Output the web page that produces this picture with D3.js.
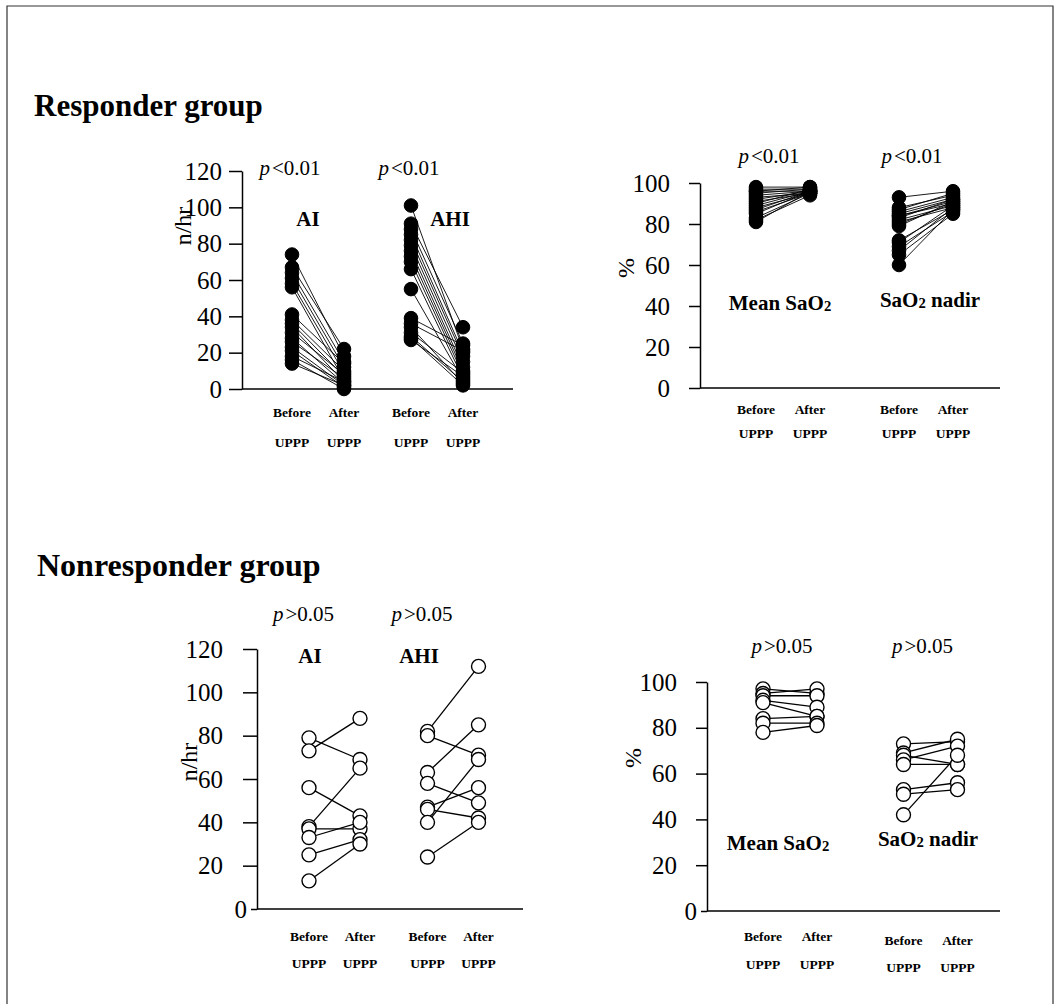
<!DOCTYPE html>
<html><head><meta charset="utf-8">
<script src="https://cdn.jsdelivr.net/npm/d3@7"></script>
<style>
body{margin:0;background:#fff;}
svg{display:block;}
text{font-family:"Liberation Serif","Times New Roman",serif;fill:#000;}
</style></head><body>
<svg id="c" width="1056" height="1004"></svg>
<script>
// ---------------- data ----------------
const groupTitles = ["Responder group", "Nonresponder group"];
const rateTicks = [0, 20, 40, 60, 80, 100, 120];
const pctTicks = [0, 20, 40, 60, 80, 100];
const phases = ["Before", "After"];
const phaseSub = "UPPP";
const rateMeasures = ["AI", "AHI"];
const pctMeasures = ["Mean SaO2", "SaO2 nadir"];
const rateTitle = "n/hr";
const pctTitle = "%";
const respP = ["<0.01", "<0.01", "<0.01", "<0.01"];
const nonP = [">0.05", ">0.05", ">0.05", ">0.05"];

// responder group (filled)
const respAIBefore  = [74, 67, 64, 61, 58, 56, 41, 38, 36, 34, 31, 28, 26, 23, 21, 18, 16, 14];
const respAIAfter   = [18, 22, 15, 12, 9, 5, 14, 10, 7, 4, 8, 3, 6, 2, 1, 4, 0, 2];
const respAHIBefore = [101, 91, 88, 85, 82, 79, 76, 73, 70, 66, 55, 39, 36, 34, 31, 29, 28, 27];
const respAHIAfter  = [22, 34, 25, 20, 18, 15, 12, 10, 8, 6, 5, 24, 21, 3, 9, 4, 2, 7];
const respMeanBefore = [98, 97, 96, 96, 95, 94, 93, 92, 91, 90, 89, 88, 87, 86, 85, 83, 82, 81];
const respMeanAfter  = [98, 97, 98, 96, 97, 96, 95, 96, 95, 97, 96, 95, 96, 95, 96, 95, 94, 96];
const respNadirBefore = [93, 88, 87, 86, 85, 84, 84, 83, 82, 81, 80, 72, 71, 69, 67, 65, 60, 79];
const respNadirAfter  = [96, 94, 95, 93, 92, 91, 90, 92, 89, 88, 90, 87, 89, 86, 88, 85, 87, 91];

// nonresponder group (open)
const nonAIBefore  = [79, 73, 56, 38, 37, 33, 25, 13];
const nonAIAfter   = [69, 88, 43, 65, 37, 40, 32, 30];
const nonAHIBefore = [82, 80, 63, 58, 47, 46, 40, 24];
const nonAHIAfter  = [112, 71, 85, 49, 56, 42, 69, 40];
const nonMeanBefore = [97, 95, 94, 92, 91, 84, 82, 78];
const nonMeanAfter  = [95, 97, 94, 89, 85, 85, 82, 81];
const nonNadirBefore = [73, 69, 68, 66, 64, 53, 51, 42];
const nonNadirAfter  = [74, 75, 64, 72, 64, 56, 53, 68];

// ---------------- layout ----------------
const svg = d3.select("#c");
const FONT = '"Liberation Serif","Times New Roman",serif';

// frame
svg.append("path").attr("d", "M7,1004V6H1053V1004")
  .attr("fill", "none").attr("stroke", "#333").attr("stroke-width", 1.2);

svg.append("text").attr("x", 34).attr("y", 116).attr("font-size", 31).attr("font-weight", "bold").text(groupTitles[0]);
svg.append("text").attr("x", 37).attr("y", 576).attr("font-size", 32).attr("font-weight", "bold").text(groupTitles[1]);

const panels = [
  { axisX: 242, xEnd: 513, y0: 389, yTop: 171, max: 120, ticks: rateTicks, offs: [76, 195], half: 26,
    tickLen: 13, tickPad: 7, title: rateTitle, titlePos: [191, 226], measures: rateMeasures,
    pY: 175, pDx: -28, mPos: [[308, 226], [450, 226]], rows: [[417, 447], [417, 447]],
    p: respP.slice(0, 2), data: [[respAIBefore, respAIAfter], [respAHIBefore, respAHIAfter]], filled: true, zero: null },
  { axisX: 700, xEnd: 1000, y0: 388, yTop: 183, max: 100, ticks: pctTicks, offs: [83, 226], half: 27,
    tickLen: 11, tickPad: 19, title: pctTitle, titlePos: [634, 268], measures: pctMeasures,
    pY: 163, pDx: -14, mPos: [[780, 310], [930, 307]], rows: [[414, 438], [414, 438]],
    p: respP.slice(2, 4), data: [[respMeanBefore, respMeanAfter], [respNadirBefore, respNadirAfter]], filled: true, zero: null },
  { axisX: 257, xEnd: 523, y0: 909, yTop: 649, max: 120, ticks: rateTicks, offs: [77.5, 196], half: 25.5,
    tickLen: 14, tickPad: 20, title: rateTitle, titlePos: [197, 762], measures: rateMeasures,
    pY: 621, pDx: -31, mPos: [[310, 663], [419, 663]], rows: [[941, 968], [941, 968]],
    p: nonP.slice(0, 2), data: [[nonAIBefore, nonAIAfter], [nonAHIBefore, nonAHIAfter]], filled: false,
    zero: { len: 6, x: -10 } },
  { axisX: 707, xEnd: 1000, y0: 911, yTop: 682, max: 100, ticks: pctTicks, offs: [83, 223.5], half: 27,
    tickLen: 11, tickPad: 19, title: pctTitle, titlePos: [641, 758], measures: pctMeasures,
    pY: 653, pDx: -8, mPos: [[778, 850], [928, 846]], rows: [[941, 969], [945, 972]],
    p: nonP.slice(2, 4), data: [[nonMeanBefore, nonMeanAfter], [nonNadirBefore, nonNadirAfter]], filled: false,
    zero: { len: 6, x: -10 } }
];

function measureText(sel, label) {
  const parts = label.split("2");
  sel.append("tspan").text(parts[0]);
  if (parts.length > 1) {
    sel.append("tspan").attr("font-size", "70%").attr("dy", 1).text("2");
    if (parts[1]) sel.append("tspan").attr("dy", -1).text(parts[1]);
  }
}

panels.forEach(P => {
  const g = svg.append("g");
  const y = d3.scaleLinear().domain([0, P.max]).range([P.y0, P.yTop]);
  const outer = d3.scalePoint().domain(P.measures).range([P.axisX + P.offs[0], P.axisX + P.offs[1]]);
  const inner = d3.scalePoint().domain(phases).range([-P.half, P.half]);
  const xOf = (m, ph) => outer(m) + inner(ph);

  // y axis
  const ax = g.append("g").attr("transform", `translate(${P.axisX},0)`)
    .call(d3.axisLeft(y).tickValues(P.ticks).tickSize(P.tickLen).tickPadding(P.tickPad).tickSizeOuter(0).tickFormat(d3.format("d")));
  ax.selectAll("path,line").attr("stroke", "#000").attr("stroke-width", 1.5);
  ax.selectAll("text").attr("font-family", FONT).attr("font-size", 25).attr("fill", "#000");
  if (P.zero) {
    const z = ax.selectAll(".tick").filter(d => d === 0);
    z.select("line").attr("x2", -P.zero.len);
    z.select("text").attr("x", P.zero.x);
  }
  // x baseline
  g.append("line").attr("x1", P.axisX).attr("x2", P.xEnd).attr("y1", y(0)).attr("y2", y(0))
    .attr("stroke", "#000").attr("stroke-width", 1.6);

  // y title
  g.append("text").attr("transform", `translate(${P.titlePos[0]},${P.titlePos[1]}) rotate(-90)`)
    .attr("text-anchor", "middle").attr("font-size", 24).text(P.title);

  P.measures.forEach((m, i) => {
    const [bef, aft] = P.data[i];
    // connecting lines
    g.selectAll(null).data(bef.map((v, k) => [v, aft[k]])).enter().append("line")
      .attr("x1", xOf(m, "Before")).attr("x2", xOf(m, "After"))
      .attr("y1", d => y(d[0])).attr("y2", d => y(d[1]))
      .attr("stroke", "#000").attr("stroke-width", P.filled ? 0.9 : 1.3);
    // circles
    [["Before", bef], ["After", aft]].forEach(([ph, arr]) => {
      g.selectAll(null).data(arr).enter().append("circle")
        .attr("cx", xOf(m, ph)).attr("cy", d => y(d))
        .attr("r", P.filled ? 6.8 : 7)
        .attr("fill", P.filled ? "#000" : "#fff")
        .attr("stroke", "#000").attr("stroke-width", P.filled ? 1 : 1.4);
    });
    // p label
    const pt = g.append("text").attr("x", outer(m) + P.pDx).attr("y", P.pY)
      .attr("text-anchor", "middle").attr("font-size", 21);
    pt.append("tspan").attr("font-style", "italic").text("p");
    pt.append("tspan").attr("dx", 2).text(P.p[i]);
    // measure label
    const mt = g.append("text").attr("x", P.mPos[i][0]).attr("y", P.mPos[i][1])
      .attr("text-anchor", "middle").attr("font-size", 21).attr("font-weight", "bold");
    measureText(mt, m);
    // x category labels
    phases.forEach(ph => {
      const cx = xOf(m, ph);
      const rowY = P.rows[i];
      g.append("text").attr("x", cx).attr("y", rowY[0]).attr("text-anchor", "middle")
        .attr("font-size", 13.5).attr("font-weight", "bold").text(ph);
      g.append("text").attr("x", cx).attr("y", rowY[1]).attr("text-anchor", "middle")
        .attr("font-size", 13.5).attr("font-weight", "bold").text(phaseSub);
    });
  });
});
</script>
</body></html>
